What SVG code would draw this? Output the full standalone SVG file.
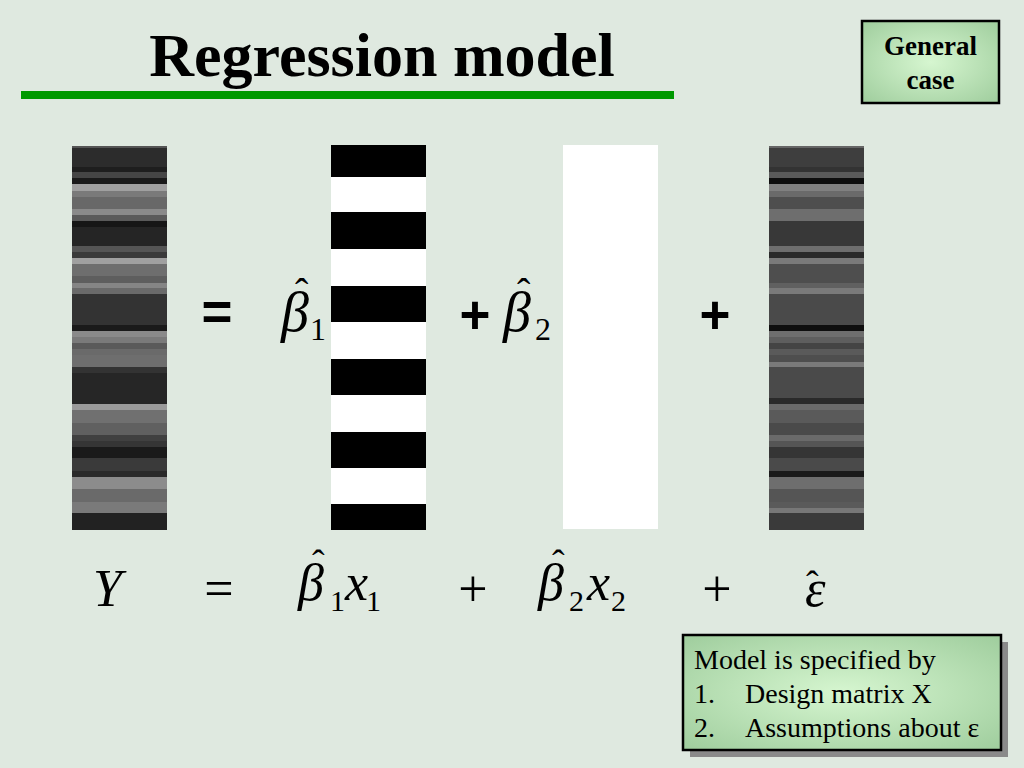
<svg xmlns="http://www.w3.org/2000/svg" width="1024" height="768" viewBox="0 0 1024 768">
<defs>
<radialGradient id="boxg" cx="50%" cy="50%" r="70%">
<stop offset="0" stop-color="#d6f6d0"/>
<stop offset="1" stop-color="#9fcd9d"/>
</radialGradient>
<style>
.serif{font-family:"Liberation Serif","Times New Roman",serif;fill:#000}
.it{font-style:italic}
.bold{font-weight:bold}
.sans{font-family:"Liberation Sans",Arial,sans-serif;font-weight:bold;fill:#000}
.box{fill:url(#boxg);stroke:#000;stroke-width:2.5}
</style>
</defs>
<rect width="1024" height="768" fill="#dfe9e0"/>
<g id="title">
<text class="serif bold" x="382" y="76" font-size="62" text-anchor="middle">Regression model</text>
<rect x="21" y="91" width="653" height="8" fill="#009900"/>
</g>
<g id="general-case">
<rect class="box" x="862" y="21" width="137" height="82"/>
<text class="serif bold" x="930.5" y="55" font-size="27" text-anchor="middle">General</text>
<text class="serif bold" x="930.5" y="89" font-size="27" text-anchor="middle">case</text>
</g>
<g id="Y-bar">
<rect x="72" y="146" width="95" height="384" fill="#2c2c2c"/>
<rect x="72" y="146" width="95" height="2" fill="#555"/>
<rect x="72" y="167" width="95" height="5" fill="#1e1e1e"/>
<rect x="72" y="172" width="95" height="6" fill="#454545"/>
<rect x="72" y="178" width="95" height="6" fill="#1a1a1a"/>
<rect x="72" y="184" width="95" height="7" fill="#a0a0a0"/>
<rect x="72" y="191" width="95" height="6" fill="#7a7a7a"/>
<rect x="72" y="197" width="95" height="12" fill="#686868"/>
<rect x="72" y="209" width="95" height="6" fill="#8a8a8a"/>
<rect x="72" y="215" width="95" height="6" fill="#5a5a5a"/>
<rect x="72" y="221" width="95" height="6" fill="#161616"/>
<rect x="72" y="227" width="95" height="19" fill="#252525"/>
<rect x="72" y="246" width="95" height="6" fill="#555"/>
<rect x="72" y="252" width="95" height="6" fill="#3a3a3a"/>
<rect x="72" y="258" width="95" height="6" fill="#a0a0a0"/>
<rect x="72" y="264" width="95" height="12" fill="#6e6e6e"/>
<rect x="72" y="276" width="95" height="7" fill="#5e5e5e"/>
<rect x="72" y="283" width="95" height="5" fill="#858585"/>
<rect x="72" y="288" width="95" height="6" fill="#6a6a6a"/>
<rect x="72" y="294" width="95" height="31" fill="#333"/>
<rect x="72" y="325" width="95" height="6" fill="#1a1a1a"/>
<rect x="72" y="331" width="95" height="6" fill="#8a8a8a"/>
<rect x="72" y="337" width="95" height="6" fill="#7a7a7a"/>
<rect x="72" y="343" width="95" height="6" fill="#5a5a5a"/>
<rect x="72" y="349" width="95" height="6" fill="#6a6a6a"/>
<rect x="72" y="355" width="95" height="12" fill="#6e6e6e"/>
<rect x="72" y="367" width="95" height="6" fill="#333"/>
<rect x="72" y="373" width="95" height="31" fill="#262626"/>
<rect x="72" y="404" width="95" height="6" fill="#9a9a9a"/>
<rect x="72" y="410" width="95" height="13" fill="#707070"/>
<rect x="72" y="423" width="95" height="12" fill="#606060"/>
<rect x="72" y="435" width="95" height="6" fill="#404040"/>
<rect x="72" y="441" width="95" height="6" fill="#353535"/>
<rect x="72" y="447" width="95" height="11" fill="#1a1a1a"/>
<rect x="72" y="458" width="95" height="13" fill="#3a3a3a"/>
<rect x="72" y="471" width="95" height="6" fill="#2a2a2a"/>
<rect x="72" y="477" width="95" height="12" fill="#8c8c8c"/>
<rect x="72" y="489" width="95" height="13" fill="#6a6a6a"/>
<rect x="72" y="502" width="95" height="11" fill="#7a7a7a"/>
<rect x="72" y="513" width="95" height="17" fill="#222"/>
</g>
<g id="x1-bar">
<rect x="331" y="145" width="95" height="385" fill="#000"/>
<rect x="331" y="177" width="95" height="35" fill="#fff"/>
<rect x="331" y="249" width="95" height="37" fill="#fff"/>
<rect x="331" y="322" width="95" height="37" fill="#fff"/>
<rect x="331" y="395" width="95" height="37" fill="#fff"/>
<rect x="331" y="468" width="95" height="36" fill="#fff"/>
</g>
<g id="x2-bar">
<rect x="563" y="145" width="95" height="384" fill="#fff"/>
</g>
<g id="e-bar">
<rect x="769" y="146" width="95" height="384" fill="#3e3e3e"/>
<rect x="769" y="146" width="95" height="2" fill="#666"/>
<rect x="769" y="167" width="95" height="5" fill="#333"/>
<rect x="769" y="172" width="95" height="6" fill="#5a5a5a"/>
<rect x="769" y="178" width="95" height="6" fill="#0e0e0e"/>
<rect x="769" y="184" width="95" height="7" fill="#808080"/>
<rect x="769" y="191" width="95" height="6" fill="#6a6a6a"/>
<rect x="769" y="197" width="95" height="12" fill="#4e4e4e"/>
<rect x="769" y="209" width="95" height="12" fill="#6e6e6e"/>
<rect x="769" y="221" width="95" height="25" fill="#383838"/>
<rect x="769" y="246" width="95" height="6" fill="#6e6e6e"/>
<rect x="769" y="252" width="95" height="6" fill="#2a2a2a"/>
<rect x="769" y="258" width="95" height="6" fill="#7a7a7a"/>
<rect x="769" y="264" width="95" height="19" fill="#4e4e4e"/>
<rect x="769" y="283" width="95" height="5" fill="#606060"/>
<rect x="769" y="288" width="95" height="6" fill="#7a7a7a"/>
<rect x="769" y="294" width="95" height="31" fill="#4a4a4a"/>
<rect x="769" y="325" width="95" height="6" fill="#0e0e0e"/>
<rect x="769" y="331" width="95" height="6" fill="#6e6e6e"/>
<rect x="769" y="337" width="95" height="6" fill="#5e5e5e"/>
<rect x="769" y="343" width="95" height="6" fill="#444"/>
<rect x="769" y="349" width="95" height="6" fill="#5a5a5a"/>
<rect x="769" y="355" width="95" height="7" fill="#4e4e4e"/>
<rect x="769" y="362" width="95" height="5" fill="#7a7a7a"/>
<rect x="769" y="367" width="95" height="31" fill="#4a4a4a"/>
<rect x="769" y="398" width="95" height="6" fill="#2a2a2a"/>
<rect x="769" y="404" width="95" height="6" fill="#6a6a6a"/>
<rect x="769" y="410" width="95" height="13" fill="#5a5a5a"/>
<rect x="769" y="423" width="95" height="12" fill="#4a4a4a"/>
<rect x="769" y="435" width="95" height="6" fill="#6a6a6a"/>
<rect x="769" y="441" width="95" height="6" fill="#555"/>
<rect x="769" y="447" width="95" height="11" fill="#353535"/>
<rect x="769" y="458" width="95" height="13" fill="#4a4a4a"/>
<rect x="769" y="471" width="95" height="6" fill="#1a1a1a"/>
<rect x="769" y="477" width="95" height="12" fill="#6e6e6e"/>
<rect x="769" y="489" width="95" height="13" fill="#555"/>
<rect x="769" y="502" width="95" height="6" fill="#5a5a5a"/>
<rect x="769" y="508" width="95" height="5" fill="#777"/>
<rect x="769" y="513" width="95" height="17" fill="#3a3a3a"/>
</g>
<g id="upper-equation">
<text class="sans" x="217" y="330" font-size="53" text-anchor="middle">=</text>
<text class="serif it" x="281" y="331" font-size="56">β</text>
<text class="serif" x="295" y="306" font-size="40">ˆ</text>
<text class="serif" x="310" y="340" font-size="32">1</text>
<text class="sans" x="475" y="333" font-size="53" text-anchor="middle">+</text>
<text class="serif it" x="503" y="331" font-size="56">β</text>
<text class="serif" x="517" y="306" font-size="40">ˆ</text>
<text class="serif" x="535" y="340" font-size="32">2</text>
<text class="sans" x="715" y="333" font-size="53" text-anchor="middle">+</text>
</g>
<g id="lower-equation">
<text class="serif it" x="93" y="606" font-size="52">Y</text>
<text class="serif" x="219" y="606" font-size="52" text-anchor="middle">=</text>
<text class="serif it" x="298" y="600" font-size="52">β</text>
<text class="serif" x="312" y="576" font-size="38">ˆ</text>
<text class="serif" x="330" y="611" font-size="30">1</text>
<text class="serif it" x="345" y="600" font-size="52">x</text>
<text class="serif" x="366" y="611" font-size="30">1</text>
<text class="serif" x="473" y="606" font-size="52" text-anchor="middle">+</text>
<text class="serif it" x="538" y="600" font-size="52">β</text>
<text class="serif" x="552" y="576" font-size="38">ˆ</text>
<text class="serif" x="569" y="611" font-size="30">2</text>
<text class="serif it" x="587" y="600" font-size="52">x</text>
<text class="serif" x="611" y="611" font-size="30">2</text>
<text class="serif" x="717" y="606" font-size="52" text-anchor="middle">+</text>
<text class="serif it" x="805" y="606" font-size="52">ε</text>
<text class="serif" x="806" y="597" font-size="38">ˆ</text>
</g>
<g id="model-box">
<rect x="690" y="642" width="318" height="115" fill="#8a8a8a"/>
<rect class="box" x="683" y="635" width="318" height="115"/>
<text class="serif" x="694" y="669" font-size="28">Model is specified by</text>
<text class="serif" x="694" y="703" font-size="28">1.</text>
<text class="serif" x="745" y="703" font-size="28">Design matrix X</text>
<text class="serif" x="694" y="737" font-size="28">2.</text>
<text class="serif" x="745" y="737" font-size="28">Assumptions about ε</text>
</g>
</svg>
